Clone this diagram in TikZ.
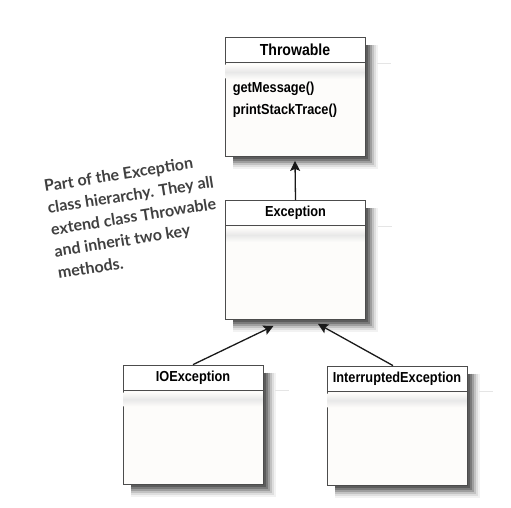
\documentclass[tikz,border=0pt]{standalone}
\usepackage{fontspec}
\setmainfont{Liberation Sans}
\newfontfamily\umlfont[FakeStretch=0.88]{Liberation Sans}
\newfontfamily\notefont{Lato}
\usetikzlibrary{positioning,arrows.meta}

\definecolor{boxbg}{HTML}{FDFCFA}
\definecolor{notegray}{HTML}{404040}
\definecolor{shadeA}{HTML}{F2F2F2}
\definecolor{shadeB}{HTML}{DEDEDE}
\definecolor{shadeC}{HTML}{C2C2C2}
\definecolor{shadeD}{HTML}{9E9E9E}
\definecolor{shadeE}{HTML}{7A7A7A}
\definecolor{shadeF}{HTML}{5C5C5C}

\tikzset{
  classbox/.style={draw=black!70, fill=boxbg, line width=0.8pt,
    minimum width=140pt, minimum height=119pt, inner sep=0pt},
  classname/.style={draw=black!70, fill=white, line width=0.8pt, anchor=north,
    minimum width=140pt, minimum height=25pt, inner sep=0pt,
    font=\umlfont\bfseries\fontsize{14.5}{16}\selectfont},
  methods/.style={anchor=north west, align=left, inner sep=0pt,
    font=\umlfont\bfseries\fontsize{14.5}{22}\selectfont},
  inherit/.style={draw=black!90, line width=1.3pt,
    -{Stealth[length=10pt,width=10pt,inset=2pt]}},
  note/.style={align=left, inner sep=0pt, text=notegray,
    font=\notefont\bfseries\fontsize{16}{22}\selectfont}
}

% soft shadow right of and below a class box, as stacked strokes
\newcommand{\classshadow}[1]{%
  \foreach \k/\c in {11/shadeA,9/shadeB,7/shadeC,5/shadeD,3/shadeE,1.2/shadeF}{
    \draw[\c, line width=2.2pt, line join=miter]
      ([xshift=\k pt,yshift=-8pt]#1.north east) -- ([xshift=\k pt,yshift=-\k pt]#1.south east)
      -- ([xshift=8pt,yshift=-\k pt]#1.south west);
  }
}
% faint band under a class name
\newcommand{\nameband}[1]{%
  \shade[top color=boxbg, bottom color=boxbg, middle color=black!9]
    ([shift={(1pt,-2pt)}]#1.south west) rectangle ([shift={(-1pt,-16pt)}]#1.south east);
  \draw[black!10, line width=0.6pt] ([xshift=12pt]#1.south east) -- ++(14pt,0);
}

\begin{document}
\begin{tikzpicture}[x=1pt,y=-1pt]
\useasboundingbox (0,0) rectangle (511,507);

% Throwable
\node[classbox] (throwable) at (295,97) {};
\classshadow{throwable}
\node[classname, font=\umlfont\bfseries\fontsize{16}{16}\selectfont] (throwablename) at (throwable.north) {Throwable};
\nameband{throwablename}
\node[methods] (throwablemethods) at ([xshift=8pt,yshift=-19pt]throwablename.south west) {getMessage()\\printStackTrace()};

% Exception
\node[classbox] (exception) at (295.5,260) {};
\classshadow{exception}
\node[classname] (exceptionname) at (exception.north) {Exception};
\nameband{exceptionname}

% subclasses
\node[classbox] (ioexception) at (193,424.5) {};
\classshadow{ioexception}
\node[classname] (ioexceptionname) at (ioexception.north) {IOException};
\nameband{ioexceptionname}
\node[classbox] (interrupted) at (397,425.5) {};
\classshadow{interrupted}
\node[classname] (interruptedname) at (interrupted.north) {InterruptedException};
\nameband{interruptedname}

% arrow ends
\coordinate (throwableend) at ([yshift=-4pt]throwable.south);
\coordinate (ioend) at ([xshift=-22pt,yshift=-6pt]exception.south);
\coordinate (interruptedend) at ([xshift=22.5pt,yshift=-4pt]exception.south);

\draw[inherit] (exceptionname.north) -- (throwableend);
\draw[inherit] (ioexceptionname.north) -- (ioend);
\draw[inherit] ([xshift=-4pt]interruptedname.north) -- (interruptedend);

% note
\node[note, rotate=9, anchor=north west] (hierarchynote) at (43,180) {Part of the Exception\\class hierarchy. They all\\extend class Throwable\\and inherit two key\\methods.};
\end{tikzpicture}
\end{document}
